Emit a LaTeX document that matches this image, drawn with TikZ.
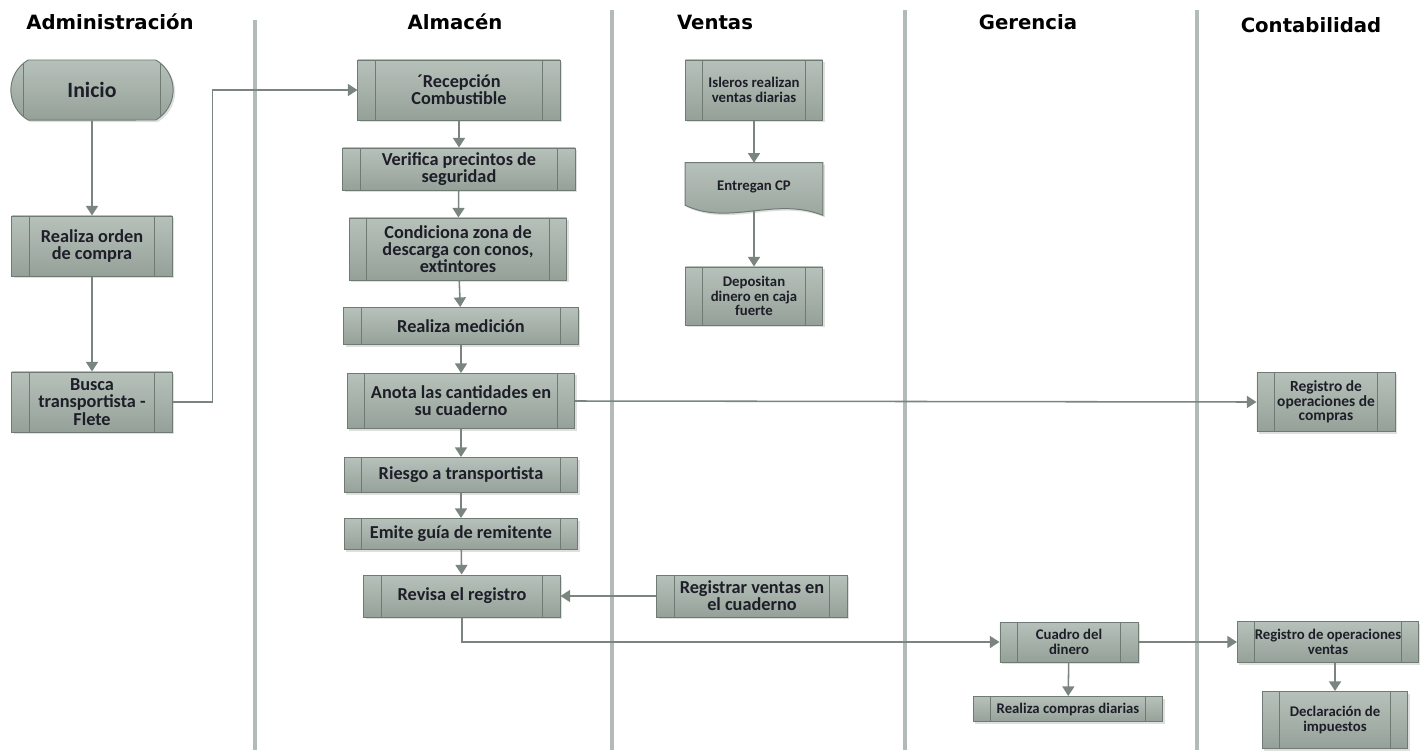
\documentclass[tikz,border=0pt]{standalone}
\usepackage{fontspec}
\setmainfont{Carlito}
\newfontfamily\headfont{DejaVu Sans}
\usepackage{tikz}
\usetikzlibrary{arrows.meta,shapes.misc,shadows,backgrounds}

\definecolor{boxtop}{HTML}{B7C1BB}
\definecolor{boxbot}{HTML}{95A198}
\definecolor{boxedge}{HTML}{6E7B73}
\definecolor{flowc}{HTML}{7A8580}
\definecolor{lanec}{HTML}{B3BBB6}
\definecolor{txt}{HTML}{1E1E28}

\begin{document}
\begin{tikzpicture}[x=0.025cm,y=-0.025cm,
  base/.style={draw=boxedge,line width=0.7pt,top color=boxtop,bottom color=boxbot,
    drop shadow={shadow xshift=0.05cm,shadow yshift=-0.05cm,fill=black!25},
    text=txt,align=center,inner sep=1pt,font=\bfseries},
  proc/.style={base,rectangle,
    path picture={
      \draw[boxedge,line width=0.7pt]
        ([xshift=0.43cm]path picture bounding box.north west) -- ([xshift=0.43cm]path picture bounding box.south west)
        ([xshift=-0.43cm]path picture bounding box.north east) -- ([xshift=-0.43cm]path picture bounding box.south east);}},
  big/.style={font=\bfseries\fontsize{13}{12.2}\selectfont},
  small/.style={font=\bfseries\fontsize{10.5}{10.2}\selectfont},
  flow/.style={draw=flowc,line width=1.1pt,-{Triangle[length=0.24cm,width=0.3cm]}},
  lane/.style={draw=lanec,line width=2.5pt},
  head/.style={font=\headfont\bfseries\fontsize{14}{16}\selectfont,text=black}]

\useasboundingbox (0,0) rectangle (1420,750);

% lanes
\draw[lane] (255,20) -- (255,750);
\foreach \x in {612,905,1197}
  \draw[lane] (\x,10) -- (\x,750);

\node[head] (hadm) at (110,22) {Administración};
\node[head] (halm) at (455,22) {Almacén};
\node[head] (hven) at (715,22) {Ventas};
\node[head] (hger) at (1028,22) {Gerencia};
\node[head] (hcon) at (1311,25) {Contabilidad};

% Administracion
\node[base,rounded rectangle,rounded rectangle arc length=120,minimum width=4.125cm,minimum height=1.5cm,
  font=\bfseries\fontsize{15.5}{17}\selectfont,
  path picture={
      \draw[boxedge,line width=0.7pt]
        ([xshift=0.45cm]path picture bounding box.north west) -- ([xshift=0.45cm]path picture bounding box.south west)
        ([xshift=-0.45cm]path picture bounding box.north east) -- ([xshift=-0.45cm]path picture bounding box.south east);}]
  (inicio) at (92,90) {Inicio};
\node[proc,big,minimum width=4cm,minimum height=1.5cm] (orden) at (92,246) {Realiza orden\\de compra};
\node[proc,big,minimum width=4cm,minimum height=1.5cm] (busca) at (92,402) {Busca\\transportista -\\Flete};

% Almacen
\node[proc,big,minimum width=5.05cm,minimum height=1.5cm] (recep) at (459,90) {´Recepción\\Combustible};
\node[proc,big,minimum width=5.8cm,minimum height=1.05cm] (verif) at (459,169) {Verifica precintos de\\seguridad};
\node[proc,big,minimum width=5.425cm,minimum height=1.55cm] (cond) at (458,249) {Condiciona zona de\\descarga con conos,\\extintores};
\node[proc,big,minimum width=5.85cm,minimum height=0.925cm] (medic) at (461,326) {Realiza medición};
\node[proc,big,minimum width=5.675cm,minimum height=1.375cm] (anota) at (461,401) {Anota las cantidades en\\su cuaderno};
\node[proc,big,minimum width=5.825cm,minimum height=0.875cm] (riesgo) at (461,475) {Riesgo a transportista};
\node[proc,big,minimum width=5.825cm,minimum height=0.775cm] (emite) at (461,534) {Emite guía de remitente};
\node[proc,big,minimum width=4.9cm,minimum height=1.05cm] (revisa) at (462,596) {Revisa el registro};

% Ventas
\node[proc,small,minimum width=3.425cm,minimum height=1.5cm] (isleros) at (754,90) {Isleros realizan\\ventas diarias};
\node[small,text=txt,align=center,minimum width=3.425cm,minimum height=1.3cm,inner sep=1pt] (cp) at (754,189) {\raisebox{0.5em}{Entregan CP}};
\begin{scope}[on background layer]
  \path[draw=boxedge,line width=0.7pt,top color=boxtop,bottom color=boxbot,
    drop shadow={shadow xshift=0.05cm,shadow yshift=-0.05cm,fill=black!25}]
    (cp.north west) -- (cp.north east) -- (cp.south east)
    .. controls ([xshift=-1.2cm,yshift=0.475cm]cp.south east) and ([xshift=1.1cm,yshift=-0.275cm]cp.south west)
    .. ([yshift=0.25cm]cp.south west) -- cycle;
\end{scope}
\node[proc,small,minimum width=3.425cm,minimum height=1.45cm] (depos) at (754,296) {Depositan\\dinero en caja\\fuerte};
\node[proc,big,minimum width=4.75cm,minimum height=1.05cm] (regvent) at (752,596) {Registrar ventas en\\el cuaderno};

% Gerencia
\node[proc,small,minimum width=3.45cm,minimum height=1cm] (cuadro) at (1069,642) {Cuadro del\\dinero};
\node[proc,small,minimum width=4.725cm,minimum height=0.625cm] (compdia) at (1068,709) {Realiza compras diarias};

% Contabilidad
\node[proc,small,font=\bfseries\fontsize{11}{10.5}\selectfont,minimum width=3.45cm,minimum height=1.475cm] (opcomp) at (1326,402) {Registro de\\operaciones de\\compras};
\node[proc,small,minimum width=4.525cm,minimum height=1.025cm] (opvent) at (1328,642) {Registro de operaciones\\ventas};
\node[proc,small,minimum width=3.625cm,minimum height=1.425cm] (declar) at (1335,720) {Declaración de\\impuestos};

% connectors
\draw[flow] (inicio) -- (orden);
\draw[flow] (orden) -- (busca);
\draw[flow] (busca.east) -- ++(1cm,0) |- (recep.west);
\draw[flow] (recep) -- (verif);
\draw[flow] (verif) -- (cond);
\draw[flow] (cond) -- (medic);
\draw[flow] (medic) -- (anota);
\draw[flow] (anota) -- (riesgo);
\draw[flow] (riesgo) -- (emite);
\draw[flow] (emite) -- (revisa);
\draw[flow] (anota.east) -- (opcomp.west);
\draw[flow] (regvent.west) -- (revisa.east);
\draw[flow] (revisa.south) |- (cuadro.west);
\draw[flow] (cuadro) -- (compdia);
\draw[flow] (cuadro.east) -- (opvent.west);
\draw[flow] (opvent.south -| declar.north) -- (declar.north);
\draw[flow] (isleros) -- (cp.north);
\draw[flow] ([yshift=0.12cm]cp.south) -- (depos);
\end{tikzpicture}
\end{document}
